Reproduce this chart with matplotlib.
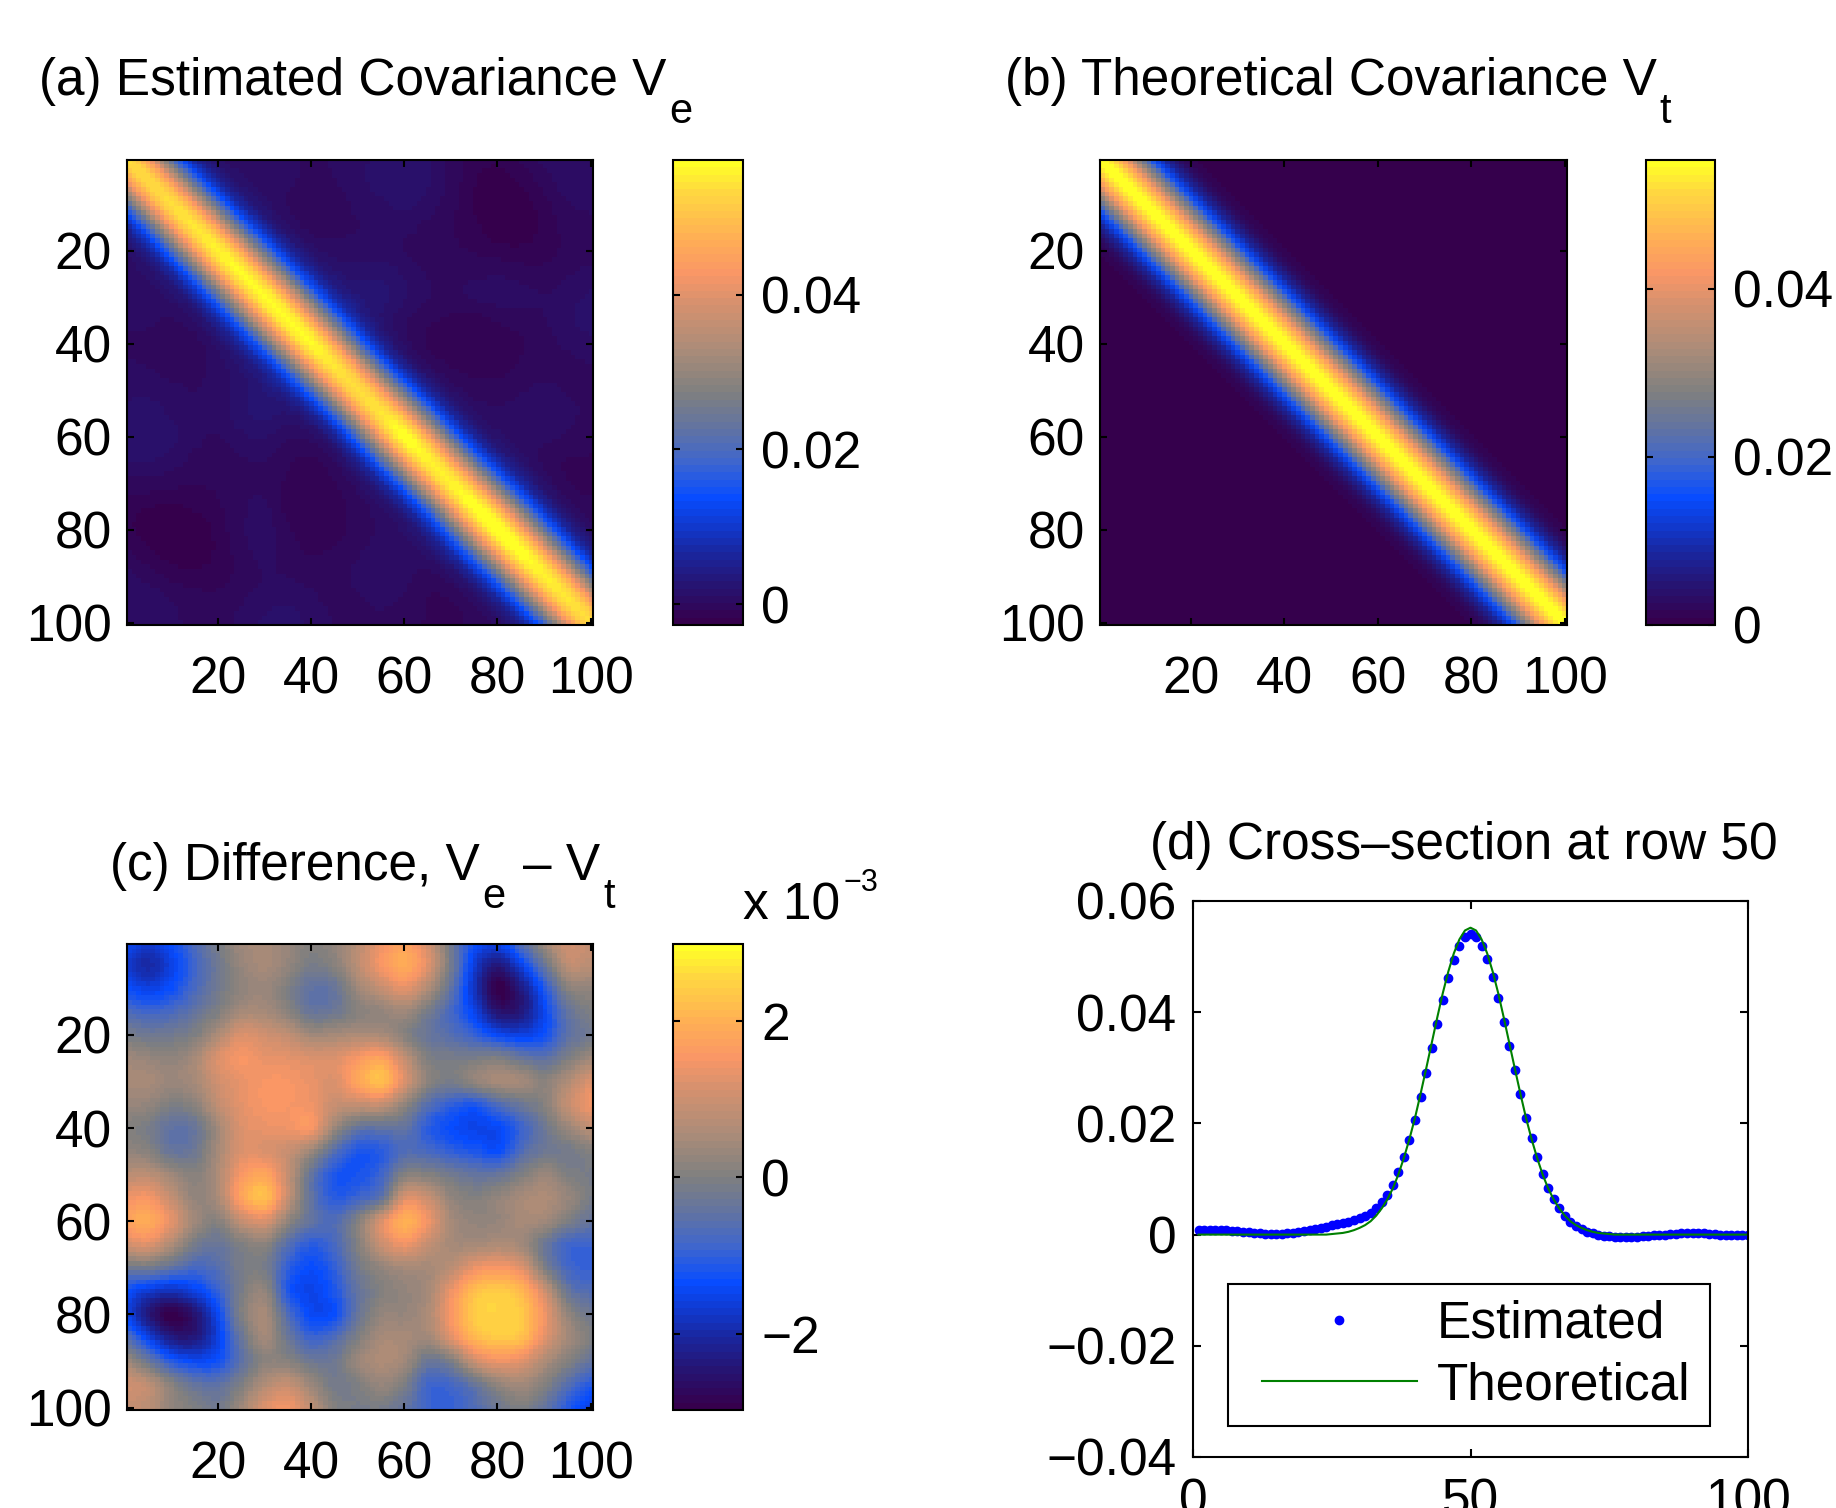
import numpy as np
import matplotlib
matplotlib.use('Agg')
import matplotlib.pyplot as plt
from matplotlib.colors import LinearSegmentedColormap
from matplotlib.lines import Line2D
from matplotlib.legend_handler import HandlerLine2D

plt.rcParams['font.family'] = ['Liberation Sans', 'DejaVu Sans']
plt.rcParams['font.size'] = 37

# theoretical covariance vs distance from the diagonal |i-j|
theo_profile = [0.0552, 0.0547, 0.0531, 0.0506, 0.0473, 0.0434, 0.0390, 0.0344,
                0.0298, 0.0253, 0.0210, 0.0172, 0.0138, 0.0108, 0.0083, 0.0063,
                0.0047, 0.0034, 0.0024, 0.0017, 0.0012, 0.0008, 0.0005, 0.0003,
                0.0002, 0.0001, 0.0]

# Ve - Vt in units of 1e-3, read on a 5-step grid (rows = row 0..100, cols = col 0..100)
grid_pos = list(range(0, 101, 5))
diff_grid_e3 = [
    [-1.4, -1.8, -1.4, -0.6, 0.1, 0.4, 0.4, 0.3, 0.1, 0.4, 1.0, 1.5, 1.9, 1.3, 0.0, -1.2, -1.3, -0.5, 0.5, 1.0, 0.8],
    [-1.5, -2.0, -1.6, -0.7, 0.0, 0.3, 0.5, 0.4, 0.0, 0.2, 1.0, 1.6, 2.0, 1.4, 0.0, -1.5, -2.3, -1.5, -0.3, 0.8, 0.8],
    [-1.2, -1.5, -1.3, -0.6, 0.0, 0.3, 0.3, 0.0, -0.5, -0.4, 0.5, 1.2, 1.3, 0.6, -0.5, -1.6, -2.9, -2.2, -1.0, 0.2, 0.4],
    [-0.8, -1.0, -0.9, -0.4, 0.0, 0.5, 0.4, 0.0, -0.4, -0.3, 0.2, 0.5, 0.4, 0.0, -0.8, -1.5, -2.5, -2.4, -1.3, -0.3, 0.3],
    [-0.3, -0.5, -0.4, 0.0, 0.6, 1.2, 1.1, 0.7, 0.4, 0.5, 0.6, 0.6, 0.2, -0.2, -0.6, -1.0, -1.4, -1.5, -1.2, -0.5, 0.0],
    [0.4, 0.3, 0.1, 0.5, 1.2, 1.5, 1.4, 1.3, 1.2, 1.3, 1.6, 1.9, 1.2, 0.2, -0.2, -0.3, 0.0, -0.3, -0.5, 0.0, 0.5],
    [0.6, 0.5, 0.4, 0.6, 1.0, 1.3, 1.5, 1.5, 1.4, 1.4, 1.7, 2.2, 1.5, 0.3, -0.2, 0.1, 0.5, 0.6, 0.3, 0.6, 1.2],
    [0.3, 0.1, 0.0, 0.3, 1.0, 1.3, 1.5, 1.5, 1.4, 1.3, 0.8, 0.5, 0.0, -0.6, -1.1, -1.3, -1.0, -0.6, 0.0, 0.7, 1.4],
    [0.0, -0.2, -0.4, -0.3, 0.5, 1.2, 1.3, 1.4, 1.5, 0.7, -0.4, -0.9, -0.6, -0.9, -1.3, -1.5, -1.5, -1.3, -0.5, 0.1, 0.6],
    [0.1, 0.0, -0.3, -0.2, 0.5, 1.1, 1.0, 0.6, 0.0, -0.6, -1.1, -1.2, -0.8, -0.5, -0.8, -1.0, -1.1, -0.7, -0.5, -0.3, 0.0],
    [0.5, 0.6, 0.3, 0.0, 0.6, 1.5, 1.9, 1.0, -0.4, -1.2, -1.2, -0.6, 0.1, 0.4, 0.0, -0.4, -0.3, 0.0, 0.3, 0.0, -0.2],
    [1.3, 1.4, 0.6, 0.0, 0.5, 1.6, 2.2, 1.3, 0.0, -0.9, -1.1, -0.4, 1.2, 1.3, 0.4, 0.1, 0.3, 0.5, 0.6, 0.4, 0.1],
    [1.5, 1.8, 1.3, 0.4, 0.0, 0.5, 0.8, 0.4, -0.3, -0.5, 0.0, 1.2, 2.0, 1.5, 0.6, 0.2, 0.3, 0.5, 0.5, 0.3, 0.0],
    [0.8, 1.0, 0.6, -0.3, -0.5, -0.2, 0.0, -0.6, -1.2, -1.0, -0.3, 0.6, 1.3, 0.9, 0.5, 0.4, 0.6, 0.4, -0.3, -0.8, -0.8],
    [-0.5, -0.4, -0.5, -0.8, -0.6, 0.0, 0.0, -0.9, -1.4, -1.2, -0.4, 0.1, 0.4, 0.5, 0.8, 1.4, 1.5, 1.2, 0.0, -0.7, -0.9],
    [-1.4, -1.8, -2.1, -1.6, -0.9, 0.1, 0.4, -1.0, -1.5, -1.3, -0.4, 0.0, 0.3, 0.6, 1.4, 2.2, 2.4, 2.0, 0.8, -0.4, -0.8],
    [-1.6, -2.4, -3.0, -2.5, -1.4, 0.0, 0.5, -0.3, -1.3, -1.5, -0.4, 0.2, 0.3, 0.6, 1.6, 2.4, 2.5, 2.3, 1.3, 0.0, -0.6],
    [-0.7, -1.5, -2.4, -2.3, -1.6, -0.4, 0.3, 0.0, -0.5, -0.6, 0.0, 0.5, 0.5, 0.5, 1.3, 2.2, 2.4, 2.2, 1.3, 0.3, -0.4],
    [0.3, -0.3, -1.2, -1.5, -1.3, -0.5, 0.0, 0.2, 0.0, 0.0, 0.4, 0.6, 0.3, -0.3, 0.0, 1.2, 1.5, 1.2, 0.6, 0.0, -0.5],
    [1.1, 0.8, 0.0, -0.5, -0.5, 0.0, 0.7, 1.1, 0.6, 0.0, 0.0, 0.2, -0.4, -0.9, -0.9, -0.3, 0.5, 0.6, 0.1, -0.6, -1.2],
    [1.0, 0.7, 0.1, -0.3, -0.4, 0.3, 1.2, 1.5, 1.0, 0.1, 0.0, -0.3, -0.8, -1.0, -1.0, -0.5, 0.1, 0.4, -0.3, -1.0, -1.6],
]

clim_a = (-0.0027, 0.0574)
clim_b = (0.0, 0.0553)
clim_c = (-2.97, 2.98)
cbar_ticks_ab = [0, 0.02, 0.04]
cbar_labels_ab = ['0', '0.02', '0.04']
cbar_ticks_c = [-2, 0, 2]
cbar_labels_c = ['\u22122', '0', '2']
img_ticks = [20, 40, 60, 80, 100]
d_yticks = [-0.04, -0.02, 0, 0.02, 0.04, 0.06]
d_ylabels = ['\u22120.04', '\u22120.02', '0', '0.02', '0.04', '0.06']
d_xticks = [0, 50, 100]
cs_row = 50

cmap = LinearSegmentedColormap.from_list('bgo', [
    (0.00, (0.21, 0.00, 0.30)),
    (0.08, (0.15, 0.08, 0.45)),
    (0.15, (0.10, 0.15, 0.62)),
    (0.27, (0.03, 0.30, 1.00)),
    (0.35, (0.25, 0.40, 0.80)),
    (0.42, (0.38, 0.45, 0.64)),
    (0.50, (0.50, 0.50, 0.50)),
    (0.60, (0.68, 0.55, 0.47)),
    (0.70, (0.85, 0.57, 0.43)),
    (0.76, (0.98, 0.59, 0.40)),
    (0.84, (1.00, 0.69, 0.33)),
    (0.94, (1.00, 0.85, 0.25)),
    (1.00, (1.00, 1.00, 0.15)),
], N=64)


def cubic_rows(grid, src, dst):
    # Catmull-Rom resampling along axis 0
    src = np.asarray(src, float)
    h = src[1] - src[0]
    u = (dst - src[0]) / h
    i = np.clip(np.floor(u).astype(int), 0, len(src) - 2)
    t = (u - i)[:, None]
    g = lambda k: grid[np.clip(i + k, 0, len(src) - 1)]
    p0, p1, p2, p3 = g(-1), g(0), g(1), g(2)
    return 0.5 * (2 * p1 + (p2 - p0) * t + (2 * p0 - 5 * p1 + 4 * p2 - p3) * t ** 2
                  + (3 * p1 - p0 - 3 * p2 + p3) * t ** 3)


n = 100
idx = np.arange(1, n + 1)
lag = np.abs(idx[:, None] - idx[None, :])
prof = np.array(theo_profile)
Vt = np.where(lag < len(prof), prof[np.minimum(lag, len(prof) - 1)], 0.0)

G = np.array(diff_grid_e3)
G = (G + G.T) / 2  # covariance difference is symmetric
D = cubic_rows(cubic_rows(G, grid_pos, idx).T, grid_pos, idx).T
Ve = Vt + D * 1e-3

W, H = 1836, 1508
fig = plt.figure(figsize=(W / 100, H / 100), dpi=100)


def px_axes(l, t, r, b):
    return fig.add_axes([l / W, 1 - b / H, (r - l) / W, (b - t) / H])


ax_a = px_axes(127, 160, 593, 625)
cax_a = px_axes(673, 160, 743, 625)
ax_b = px_axes(1100, 160, 1567, 625)
cax_b = px_axes(1646, 160, 1715, 625)
ax_c = px_axes(127, 944, 593, 1410)
cax_c = px_axes(673, 944, 743, 1410)
ax_d = px_axes(1193, 901, 1748, 1457)

ext = (0.5, n + 0.5, n + 0.5, 0.5)


def image(ax, cax, data, clim, ticks, labels):
    im = ax.imshow(data, cmap=cmap, vmin=clim[0], vmax=clim[1], extent=ext,
                   aspect='auto', interpolation='nearest')
    ax.set_xticks(img_ticks)
    ax.set_yticks(img_ticks)
    ax.tick_params(direction='in', length=5, width=1.5, top=True, right=True)
    ax.tick_params(axis='x', pad=22)
    ax.tick_params(axis='y', pad=11)
    for s in ax.spines.values():
        s.set_linewidth(1.5)
    cb = fig.colorbar(im, cax=cax)
    cb.set_ticks(ticks, labels=labels)
    cax.tick_params(direction='in', length=5, width=1.5, left=True, right=True, pad=13)
    cb.outline.set_linewidth(1.5)


image(ax_a, cax_a, Ve, clim_a, cbar_ticks_ab, cbar_labels_ab)
image(ax_b, cax_b, Vt, clim_b, cbar_ticks_ab, cbar_labels_ab)
image(ax_c, cax_c, D, clim_c, cbar_ticks_c, cbar_labels_c)

# (d) cross-section
ax_d.plot(idx, Ve[cs_row - 1], '.', color='b', ms=12, label='Estimated')
ax_d.plot(idx, Vt[cs_row - 1], color=(0, 0.5, 0), lw=1.5, label='Theoretical')
ax_d.set_xlim(0, 100)
ax_d.set_ylim(-0.04, 0.06)
ax_d.set_xticks(d_xticks)
ax_d.set_yticks(d_yticks, labels=d_ylabels)
ax_d.tick_params(direction='in', length=6, width=1.5, top=True, right=True)
ax_d.tick_params(axis='x', pad=15)
ax_d.tick_params(axis='y', pad=12)
for s in ax_d.spines.values():
    s.set_linewidth(1.5)
leg = ax_d.legend(loc='lower left', bbox_to_anchor=(0.063, 0.056, 0.868, 0.26),
                  mode='expand', fancybox=False, edgecolor='k', framealpha=1,
                  handlelength=3.37, handletextpad=0.4, borderpad=0.3,
                  labelspacing=0.25, borderaxespad=0, numpoints=1,
                  handler_map={Line2D: HandlerLine2D(xpad=0.37)})
leg.get_frame().set_linewidth(1.5)

# titles with MATLAB-like sub/superscripts
renderer = fig.canvas.get_renderer()


def rich_text(x, y, parts):
    for s, kind in parts:
        if kind == 'sub':
            fs, dy = 30, -28
        elif kind == 'sup':
            fs, dy = 22, 29
        else:
            fs, dy = 37, 0
        lead = len(s) - len(s.lstrip(' '))
        x += lead * 0.278 * fs * 100 / 72
        t = fig.text(x / W, (H - y + dy) / H, s.lstrip(' '), fontsize=fs,
                     ha='left', va='baseline')
        x = t.get_window_extent(renderer).x1 + 3


rich_text(39, 95, [('(a) Estimated Covariance V', 'n'), ('e', 'sub')])
rich_text(1005, 95, [('(b) Theoretical Covariance V', 'n'), ('t', 'sub')])
rich_text(110, 880, [('(c) Difference, V', 'n'), ('e', 'sub'), (' \u2013 V', 'n'), ('t', 'sub')])
rich_text(1150, 859, [('(d) Cross\u2013section at row 50', 'n')])
rich_text(743, 920, [('x 10', 'n'), ('\u22123', 'sup')])

fig.savefig('out.png', dpi=100)
